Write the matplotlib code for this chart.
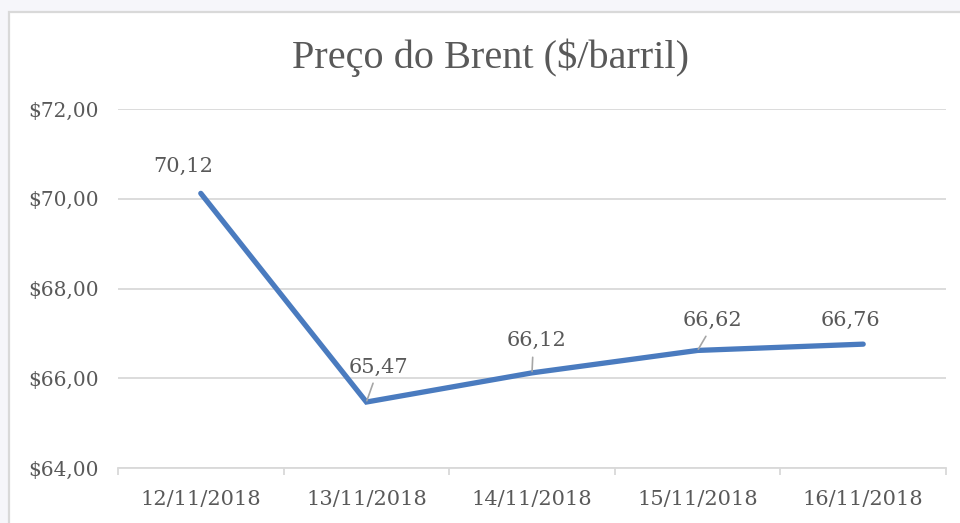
import matplotlib.pyplot as plt
from matplotlib.patches import Rectangle

datas = ['12/11/2018', '13/11/2018', '14/11/2018', '15/11/2018', '16/11/2018']
precos = [70.12, 65.47, 66.12, 66.62, 66.76]
rotulos = ['70,12', '65,47', '66,12', '66,62', '66,76']
# deslocamento dos rotulos (pixels) e se tem linha de chamada
offsets = [(-18, 27), (12, 35), (4, 32), (15, 30), (-13, 24)]
leader = [False, True, True, True, False]
yticks = [64, 66, 68, 70, 72]

plt.rcParams['font.family'] = ['DejaVu Serif']
cinza = '#595959'

fig = plt.figure(figsize=(9.6, 5.23), dpi=100)
fig.patch.set_facecolor('#f6f6fa')
# caixa do grafico
fig.patches.append(Rectangle((9 / 960, -0.05), 1.0, 1 - 12 / 523 + 0.05,
                             transform=fig.transFigure, facecolor='white',
                             edgecolor='#d9d9d9', lw=1.6, zorder=-5))

ax = fig.add_axes([118 / 960, 1 - 468 / 523, 828 / 960, 359 / 523])
ax.set_facecolor('none')
x = list(range(len(datas)))
ax.plot(x, precos, color='#4a7bbf', lw=3.8, solid_capstyle='round',
        solid_joinstyle='miter', zorder=3)

for i, (v, lab) in enumerate(zip(precos, rotulos)):
    dx, dy = offsets[i]
    arrow = None
    if leader[i]:
        arrow = dict(arrowstyle='-', color='#a6a6a6', lw=1.2,
                     shrinkA=3, shrinkB=1, relpos=(0.45, 0.0))
    ax.annotate(lab, (i, v), xytext=(dx, dy), textcoords='offset pixels',
                ha='center', va='center', fontsize=15, color=cinza,
                arrowprops=arrow, zorder=4)

ax.set_xlim(-0.5, len(datas) - 0.5)
ax.set_ylim(64, 72)
ax.set_yticks(yticks)
ax.set_yticklabels(['$%d,00' % t for t in yticks])
ax.set_xticks(x)
ax.set_xticklabels(datas)
ax.set_xticks([i - 0.5 for i in range(len(datas) + 1)], minor=True)
ax.yaxis.grid(True, color='#d9d9d9', lw=1.3)
ax.set_axisbelow(True)
for s in ['top', 'right', 'left']:
    ax.spines[s].set_visible(False)
ax.spines['bottom'].set_color('#d9d9d9')
ax.spines['bottom'].set_linewidth(1.3)
ax.tick_params(axis='y', length=0, pad=14, labelsize=14.5, labelcolor=cinza)
ax.tick_params(axis='x', which='major', length=0, pad=16, labelsize=15, labelcolor=cinza)
ax.tick_params(axis='x', which='minor', length=5, width=1.3, color='#d9d9d9', direction='out')

fig.text(491 / 960, 1 - 58 / 523, 'Preço do Brent ($/barril)', ha='center', va='center',
         fontsize=29, color=cinza, family='Liberation Serif')

fig.savefig('out.png', dpi=100, facecolor=fig.get_facecolor())
